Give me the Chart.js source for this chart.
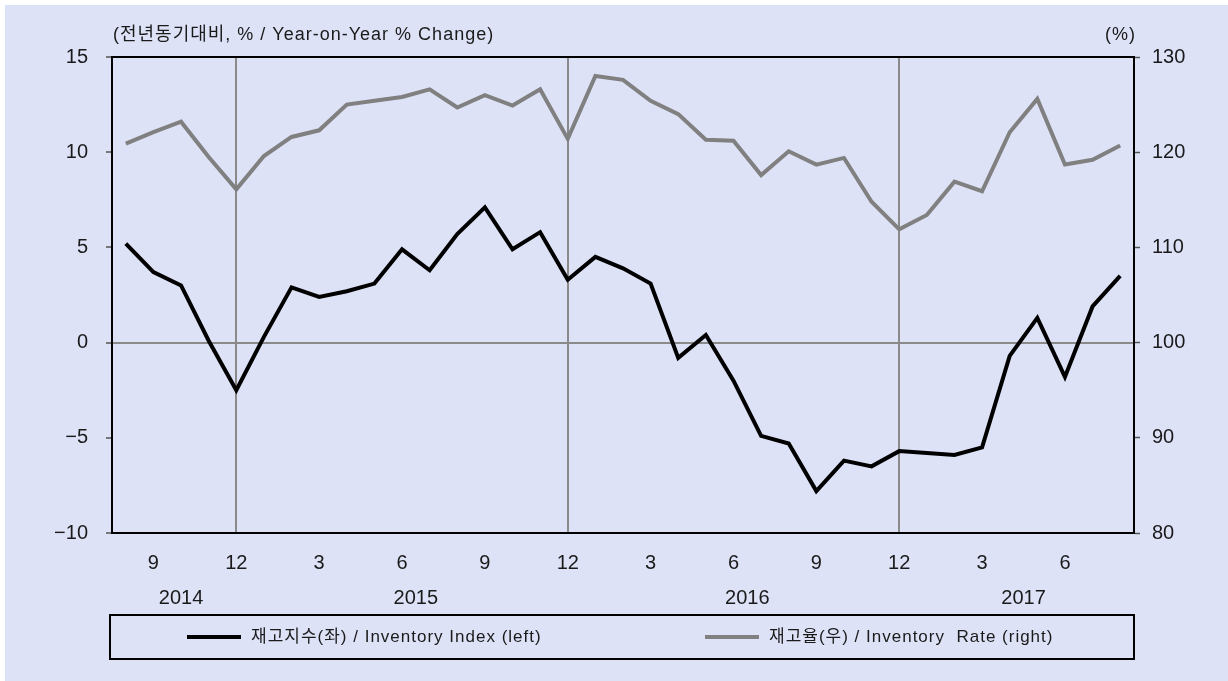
<!DOCTYPE html>
<html>
<head>
<meta charset="utf-8">
<script src="https://cdn.jsdelivr.net/npm/chart.js@4/dist/chart.umd.min.js"></script>
<style>
  html, body { margin: 0; padding: 0; background: #fff; }
  canvas { display: block; }
</style>
</head>
<body>
<canvas id="myChart" width="1228" height="681"></canvas>
<script>
const labels = [
  "2014-08", "2014-09", "2014-10", "2014-11", "2014-12",
  "2015-01", "2015-02", "2015-03", "2015-04", "2015-05", "2015-06",
  "2015-07", "2015-08", "2015-09", "2015-10", "2015-11", "2015-12",
  "2016-01", "2016-02", "2016-03", "2016-04", "2016-05", "2016-06",
  "2016-07", "2016-08", "2016-09", "2016-10", "2016-11", "2016-12",
  "2017-01", "2017-02", "2017-03", "2017-04", "2017-05", "2017-06",
  "2017-07", "2017-08",
];
const shownMonths = [3, 6, 9, 12];
const years = ["2014", "2015", "2016", "2017"];

// 재고지수 (left axis, yoy %)
const inventoryIndex = [
  5.2, 3.7, 3.0, 0.1, -2.5,
  0.3, 2.9, 2.4, 2.7, 3.1, 4.9, 3.8, 5.7, 7.1, 4.9, 5.8, 3.3,
  4.5, 3.9, 3.1, -0.8, 0.4, -2.0, -4.9, -5.3, -7.8, -6.2, -6.5, -5.7,
  -5.8, -5.9, -5.5, -0.7, 1.3, -1.8, 1.9, 3.5,
];
// 재고율 (right axis, %)
const inventoryRate = [
  120.9, 122.1, 123.2, 119.5, 116.1,
  119.6, 121.6, 122.3, 125.0, 125.4, 125.8, 126.6, 124.7, 126.0, 124.9, 126.6, 121.4,
  128.0, 127.6, 125.4, 124.0, 121.3, 121.2, 117.6, 120.1, 118.7, 119.4, 114.8, 111.9,
  113.4, 116.9, 115.9, 122.1, 125.6, 118.7, 119.2, 120.7,
];

const leftTicks = [-10, -5, 0, 5, 10, 15];
const rightTicks = [80, 90, 100, 110, 120, 130];

const FONT = '"Liberation Sans", Arial, "Noto Sans CJK KR", sans-serif';
Chart.defaults.font.family = FONT;
Chart.defaults.color = "#1a1a1a";

const monthOf = (i) => parseInt(labels[i].split("-")[1], 10);

/* 배경, 제목, 연도, 범례 */
const decor = {
  id: "decor",
  beforeDraw(chart) {
    const c = chart.ctx;
    c.save();
    c.fillStyle = "#ffffff";
    c.fillRect(0, 0, chart.width, chart.height);
    c.fillStyle = "#dee2f7";
    c.fillRect(5, 5, chart.width - 5, chart.height - 5);
    c.restore();
  },
  afterDraw(chart) {
    const c = chart.ctx;
    const a = chart.chartArea;
    const x = chart.scales.x;
    c.save();
    // plot box
    c.strokeStyle = "#000";
    c.lineWidth = 2;
    c.strokeRect(a.left, a.top, a.right - a.left, a.bottom - a.top);

    // titles
    c.fillStyle = "#1a1a1a";
    c.font = "18px " + FONT;
    c.textBaseline = "middle";
    c.textAlign = "left";
    c.letterSpacing = "1px";
    c.fillText("(전년동기대비, % / Year-on-Year % Change)", a.left + 1, 35);
    c.textAlign = "right";
    c.fillText("(%)", a.right + 2, 35);
    c.letterSpacing = "0px";

    // years
    c.font = "20px " + FONT;
    c.textAlign = "center";
    years.forEach((y) => {
      const idx = labels.map((l, i) => (l.startsWith(y) ? i : -1)).filter((i) => i >= 0);
      const px = (x.getPixelForValue(idx[0]) + x.getPixelForValue(idx[idx.length - 1])) / 2;
      c.fillText(y, px, 598);
    });

    // legend
    const top = 615, h = 44, mid = top + h / 2;
    c.strokeStyle = "#000";
    c.lineWidth = 2;
    c.strokeRect(a.left - 2, top, a.right - a.left + 2, h);
    c.font = "17px " + FONT;
    c.textAlign = "left";
    c.letterSpacing = "1px";
    chart.data.datasets.forEach((ds, i) => {
      const lx = i === 0 ? 187 : 705;
      c.strokeStyle = ds.borderColor;
      c.lineWidth = 4;
      c.beginPath();
      c.moveTo(lx, mid);
      c.lineTo(lx + 54, mid);
      c.stroke();
      c.fillText(ds.label, lx + 64, mid);
    });
    c.restore();
  },
};

const ctx = document.getElementById("myChart");

new Chart(ctx, {
  type: "line",
  data: {
    labels: labels,
    datasets: [
      {
        label: "재고지수(좌) / Inventory Index (left)",
        data: inventoryIndex,
        borderColor: "#000000",
        borderWidth: 4,
        pointRadius: 0,
        yAxisID: "y",
      },
      {
        label: "재고율(우) / Inventory  Rate (right)",
        data: inventoryRate,
        borderColor: "#808080",
        borderWidth: 4,
        pointRadius: 0,
        yAxisID: "y1",
      },
    ],
  },
  options: {
    responsive: false,
    animation: false,
    devicePixelRatio: 1,
    layout: { padding: { top: 57, left: 0, right: 0, bottom: 0 } },
    plugins: {
      legend: { display: false },
      tooltip: { enabled: false },
    },
    scales: {
      x: {
        type: "category",
        offset: true,
        grid: {
          offset: false,
          drawTicks: false,
          lineWidth: 2,
          color: (c) => (c.index !== undefined && monthOf(c.index) === 12 ? "#8a8a8a" : "transparent"),
        },
        border: { display: false },
        ticks: {
          autoSkip: false,
          maxRotation: 0,
          padding: 18,
          font: { size: 20 },
          callback: (v, i) => (shownMonths.includes(monthOf(i)) ? String(monthOf(i)) : ""),
        },
        afterFit: (s) => { s.height = 148; },
      },
      y: {
        position: "left",
        min: leftTicks[0],
        max: leftTicks[leftTicks.length - 1],
        afterBuildTicks: (s) => { s.ticks = leftTicks.map((v) => ({ value: v })); },
        grid: {
          lineWidth: 2,
          color: (c) => (c.tick && c.tick.value === 0 ? "#8a8a8a" : "transparent"),
          tickLength: 6,
          tickColor: "#555",
          tickWidth: 1.5,
        },
        border: { display: true, color: "#000", width: 2 },
        ticks: {
          padding: 18,
          font: { size: 20 },
          callback: (v) => (v < 0 ? "\u2212" + Math.abs(v) : String(v)),
        },
        afterFit: (s) => { s.width = 112; },
      },
      y1: {
        position: "right",
        min: rightTicks[0],
        max: rightTicks[rightTicks.length - 1],
        afterBuildTicks: (s) => { s.ticks = rightTicks.map((v) => ({ value: v })); },
        grid: {
          drawOnChartArea: false,
          tickLength: 6,
          tickColor: "#555",
          tickWidth: 1.5,
        },
        border: { display: true, color: "#000", width: 2 },
        ticks: {
          padding: 12,
          font: { size: 20 },
        },
        afterFit: (s) => { s.width = 94; },
      },
    },
  },
  plugins: [decor],
});
</script>
</body>
</html>
